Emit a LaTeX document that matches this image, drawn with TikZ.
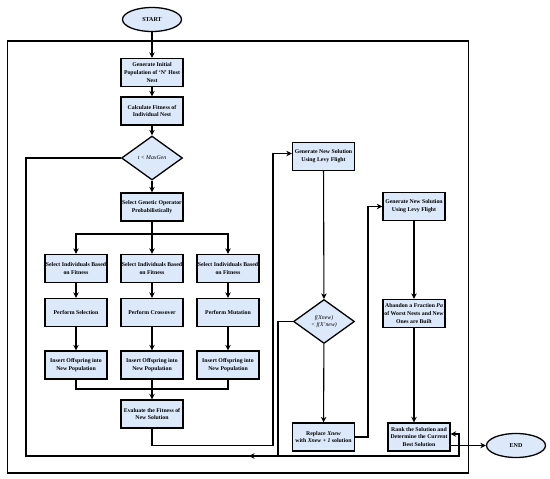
\documentclass[tikz,border=0pt]{standalone}
\usepackage{fontspec}
\setmainfont{Liberation Serif}
\usetikzlibrary{shapes.geometric,arrows.meta}
\definecolor{boxblue}{RGB}{220,233,250}
\begin{document}
\begin{tikzpicture}[x=1pt,y=-1pt,
 proc/.style={draw,line width=1.3pt,fill=boxblue,minimum width=62pt,minimum height=28pt,inner sep=0.5pt,align=center,font=\fontsize{5.8}{7.8}\selectfont\bfseries},
 dec/.style={draw,line width=1.3pt,fill=boxblue,diamond,minimum width=61pt,minimum height=44pt,inner sep=0pt,align=center,font=\fontsize{5.8}{7.2}\selectfont\itshape},
 term/.style={draw,line width=1.3pt,fill=boxblue,ellipse,minimum width=59pt,minimum height=24pt,inner sep=0pt,font=\fontsize{6}{7}\selectfont\bfseries},
 conn/.style={line width=1.1pt},
 arr/.style={conn,-{Stealth[length=5.5pt,width=5.5pt]}}]
\useasboundingbox (0,0) rectangle (550,479);
% outer loop
\coordinate (o1) at (7.5,41);
\coordinate (o2) at (468.5,473);
\draw[conn] (o1) rectangle (o2);
% nodes
\node[term] (start) at (152,19.5) {START};
\node[proc] (init) at (152,72.5) {Generate Initial\\Population of `N' Host\\Nest};
\node[proc] (fit) at (152,111) {Calculate Fitness of\\Individual Nest};
\node[dec] (tmax) at (152,158) {t < MaxGen};
\node[proc] (selop) at (152,207) {Select Genetic Operator\\Probabilistically};
\node[proc] (sa) at (76,268.5) {Select Individuals Based\\on Fitness};
\node[proc] (sb) at (152,268.5) {Select Individuals Based\\on Fitness};
\node[proc] (sc) at (228,268.5) {Select Individuals Based\\on Fitness};
\node[proc] (pa) at (76,312.5) {Perform Selection};
\node[proc] (pb) at (152,312.5) {Perform Crossover};
\node[proc] (pc) at (228,312.5) {Perform Mutation};
\node[proc] (ia) at (76,365) {Insert Offspring into\\New Population};
\node[proc] (ib) at (152,365) {Insert Offspring into\\New Population};
\node[proc] (ic) at (228,365) {Insert Offspring into\\New Population};
\node[proc] (eval) at (152,414) {Evaluate the Fitness of\\New Solution};
\node[proc] (g1) at (323.5,156.5) {Generate New Solution\\Using Levy Flight};
\node[dec] (fx) at (324,321.5) {f(Xnew)\\< f(X'new)};
\node[proc] (rep) at (323.5,437) {Replace \textit{Xnew}\\with \textit{Xnew + 1} solution};
\node[proc] (g2) at (414,206.5) {Generate New Solution\\Using Levy Flight};
\node[proc] (ab) at (414,313.5) {Abandon a Fraction \textit{Pa}\\of Worst Nests and New\\Ones are Built};
\node[proc] (rank) at (419,437) {Rank the Solution and\\Determine the Current\\Best Solution};
\node[term] (end) at (516,445.5) {END};
% connectors
\draw[arr] (start) -- (init);
\draw[arr] (init) -- (fit);
\draw[arr] (fit) -- (tmax);
\draw[arr] (tmax) -- (selop);
\coordinate (br) at (152,234);
\draw[conn] (selop.south) -- (br);
\draw[arr] (br) -| (sa.north);
\draw[arr] (br) -| (sc.north);
\draw[arr] (br) -- (sb.north);
\draw[arr] (sa) -- (pa);
\draw[arr] (sb) -- (pb);
\draw[arr] (sc) -- (pc);
\draw[arr] (pa) -- (ia);
\draw[arr] (pb) -- (ib);
\draw[arr] (pc) -- (ic);
\coordinate (mg) at (152,389);
\draw[conn] (ia.south) |- (mg);
\draw[conn] (ic.south) |- (mg);
\draw[arr] (ib.south) -- (eval.north);
\coordinate (e1) at (273,445.5);
\draw[arr] (eval.south) |- (e1) |- ([yshift=3pt]g1.west);
\coordinate (l1) at (26,456);
\coordinate (r1) at (459,456);
\coordinate (m1) at (249,456);
\draw[arr] (tmax.west) -| (l1) -- (r1) |- ([yshift=3pt]rank.east);
\draw[arr] (r1) -- (m1);
\coordinate (f1) at (278,456);
\draw[conn] (fx.west) -| (f1);
\draw[arr] (g1) -- (fx);
\draw[arr] (fx) -- (rep);
\coordinate (r2) at (368,437);
\draw[arr] (rep.east) -- (r2) |- (g2.west);
\draw[arr] (g2) -- (ab);
\draw[arr] (ab.south) -- (ab.south |- rank.north);
\draw[arr] (rank.east |- end.west) -- (end.west);
\end{tikzpicture}
\end{document}
